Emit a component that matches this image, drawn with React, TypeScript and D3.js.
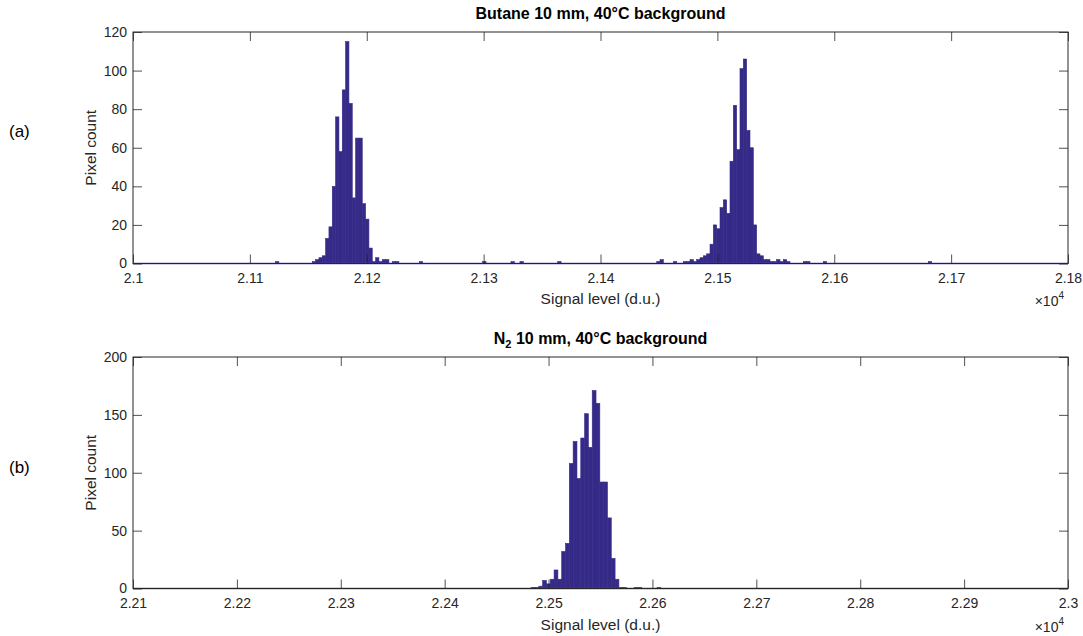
import React, { useEffect, useRef } from 'react';
import * as d3 from 'd3';

// bin geometry (d.u.)
const topBinWidth = 2.85;
const topPeak1Start = 21153.4;
const topPeak1Counts = [1, 2, 3, 4, 13, 19, 40, 76, 58, 90, 115, 83, 34, 65, 65, 31, 23, 8, 1, 3, 1, 2, 2, 0, 1, 1];
const topPeak2Start = 21448.1;
const topPeak2Counts = [
  1, 2, 0, 0, 0, 1, 0, 0, 1, 1, 2, 1, 2, 3, 4, 5, 10, 20, 18, 29, 33, 26, 53, 82, 59, 101, 106, 69, 60, 20,
  5, 4, 2, 2, 1, 1, 2, 1, 2, 1, 0, 0, 0, 0, 1, 1, 0, 0, 0, 0, 1,
];
const topStrayEdges = [21121.9, 21245, 21299.2, 21323.4, 21331.1, 21363.4, 21680.5];
const topStrayCounts = [1, 1, 1, 1, 1, 1, 1];

const botBinWidth = 3.67;
const botPeakStart = 22483.3;
const botPeakCounts = [
  1, 1, 2, 7, 4, 8, 16, 8, 32, 39, 108, 127, 95, 130, 151, 122, 171, 160, 92, 92, 61, 26, 8, 1, 1, 0, 0, 1, 1,
  0, 0, 0, 0, 1,
];

const topXTicks = [21000, 21100, 21200, 21300, 21400, 21500, 21600, 21700, 21800];
const topYTicks = [0, 20, 40, 60, 80, 100, 120];
const botXTicks = [22100, 22200, 22300, 22400, 22500, 22600, 22700, 22800, 22900, 23000];
const botYTicks = [0, 50, 100, 150, 200];

const FONT = "'Liberation Sans', Arial, Helvetica, sans-serif";
const INK = '#262626';
const BAR = '#352a87';

type Bin = { x0: number; x1: number; count: number };

const toBins = (start: number, width: number, counts: number[]): Bin[] =>
  counts
    .map((c, i) => ({ x0: start + i * width, x1: start + (i + 1) * width, count: c }))
    .filter((d) => d.count > 0);

const strayBins = (edges: number[], counts: number[], width: number): Bin[] =>
  edges.map((e, i) => ({ x0: e, x1: e + width, count: counts[i] }));

function drawPanel(svg, opts) {
  const { top, bottom, xDomain, yDomain, xTicks, yTicks, bins, label, letterY, title, xlabelY, expY } = opts;
  const left = 133;
  const right = 1068;

  const x = d3.scaleLinear().domain(xDomain).range([left, right]);
  const y = d3.scaleLinear().domain(yDomain).range([bottom, top]);

  const g = svg.append('g');

  // bars
  g.append('g')
    .selectAll('rect')
    .data(bins)
    .join('rect')
    .attr('x', (d) => x(d.x0))
    .attr('y', (d) => y(d.count))
    .attr('width', (d) => x(d.x1) - x(d.x0))
    .attr('height', (d) => y(0) - y(d.count))
    .attr('fill', BAR)
    .attr('stroke', BAR)
    .attr('stroke-width', 0.6);

  // zero line of the histogram
  g.append('line')
    .attr('x1', left)
    .attr('x2', right)
    .attr('y1', y(0))
    .attr('y2', y(0))
    .attr('stroke', '#4b46a0')
    .attr('stroke-width', 1.4);

  const fmt = (v) => String(+(v / 1e4).toFixed(2));

  const axB = g
    .append('g')
    .attr('transform', `translate(0,${bottom})`)
    .call(d3.axisBottom(x).tickValues(xTicks).tickSizeInner(-9).tickSizeOuter(0).tickPadding(10).tickFormat(fmt));
  const axT = g
    .append('g')
    .attr('transform', `translate(0,${top})`)
    .call(d3.axisTop(x).tickValues(xTicks).tickSizeInner(-9).tickSizeOuter(0).tickFormat(() => ''));
  const axL = g
    .append('g')
    .attr('transform', `translate(${left},0)`)
    .call(d3.axisLeft(y).tickValues(yTicks).tickSizeInner(-9).tickSizeOuter(0).tickPadding(6));
  const axR = g
    .append('g')
    .attr('transform', `translate(${right},0)`)
    .call(d3.axisRight(y).tickValues(yTicks).tickSizeInner(-9).tickSizeOuter(0).tickFormat(() => ''));

  [axB, axT, axL, axR].forEach((a) => {
    a.select('.domain').remove();
    a.selectAll('line').attr('stroke', INK).attr('stroke-width', 0.8);
    a.selectAll('text').attr('fill', INK).style('font-family', FONT).style('font-size', '14px');
  });

  // box
  g.append('rect')
    .attr('x', left)
    .attr('y', top)
    .attr('width', right - left)
    .attr('height', bottom - top)
    .attr('fill', 'none')
    .attr('stroke', INK)
    .attr('stroke-width', 1);

  // title
  const t = g
    .append('text')
    .attr('x', (left + right) / 2)
    .attr('y', top - 13)
    .attr('text-anchor', 'middle')
    .style('font-family', FONT)
    .style('font-size', '16px')
    .style('font-weight', 'bold')
    .attr('fill', '#000');
  title(t);

  // axis labels
  g.append('text')
    .attr('x', (left + right) / 2)
    .attr('y', xlabelY)
    .attr('text-anchor', 'middle')
    .style('font-family', FONT)
    .style('font-size', '15.5px')
    .attr('fill', INK)
    .text('Signal level (d.u.)');

  g.append('text')
    .attr('transform', `translate(96,${(top + bottom) / 2}) rotate(-90)`)
    .attr('text-anchor', 'middle')
    .style('font-family', FONT)
    .style('font-size', '15.5px')
    .attr('fill', INK)
    .text('Pixel count');

  const ex = g
    .append('text')
    .attr('x', right - 4)
    .attr('y', expY)
    .attr('text-anchor', 'end')
    .style('font-family', FONT)
    .style('font-size', '14px')
    .attr('fill', INK);
  ex.append('tspan').text('\u00d710');
  ex.append('tspan').attr('dy', -7).style('font-size', '10px').text('4');

  // panel letter
  g.append('text')
    .attr('x', 9)
    .attr('y', letterY)
    .style('font-family', FONT)
    .style('font-size', '17px')
    .attr('fill', '#000')
    .text(label);
}

const App = () => {
  const svgRef = useRef<SVGSVGElement>(null);

  useEffect(() => {
    const svg = d3.select(svgRef.current);
    svg.selectAll('*').remove();

    const topBins = [
      ...toBins(topPeak1Start, topBinWidth, topPeak1Counts),
      ...toBins(topPeak2Start, topBinWidth, topPeak2Counts),
      ...strayBins(topStrayEdges, topStrayCounts, topBinWidth),
    ];
    const botBins = toBins(botPeakStart, botBinWidth, botPeakCounts);

    drawPanel(svg, {
      top: 32,
      bottom: 263.5,
      xDomain: [21000, 21800],
      yDomain: [0, 120],
      xTicks: topXTicks,
      yTicks: topYTicks,
      bins: topBins,
      label: '(a)',
      letterY: 137,
      xlabelY: 304,
      expY: 306,
      title: (t) => t.text('Butane 10 mm, 40\u00b0C background'),
    });

    drawPanel(svg, {
      top: 357,
      bottom: 588.5,
      xDomain: [22100, 23000],
      yDomain: [0, 200],
      xTicks: botXTicks,
      yTicks: botYTicks,
      bins: botBins,
      label: '(b)',
      letterY: 473,
      xlabelY: 630,
      expY: 632,
      title: (t) => {
        t.append('tspan').text('N');
        t.append('tspan').attr('dy', 4).style('font-size', '11px').text('2');
        t.append('tspan').attr('dy', -4).text(' 10 mm, 40\u00b0C background');
      },
    });
  }, []);

  return (
    <svg
      ref={svgRef}
      width={1083}
      height={636}
      style={{ position: 'absolute', left: 0, top: 0, background: '#fff' }}
    />
  );
};

export default App;
